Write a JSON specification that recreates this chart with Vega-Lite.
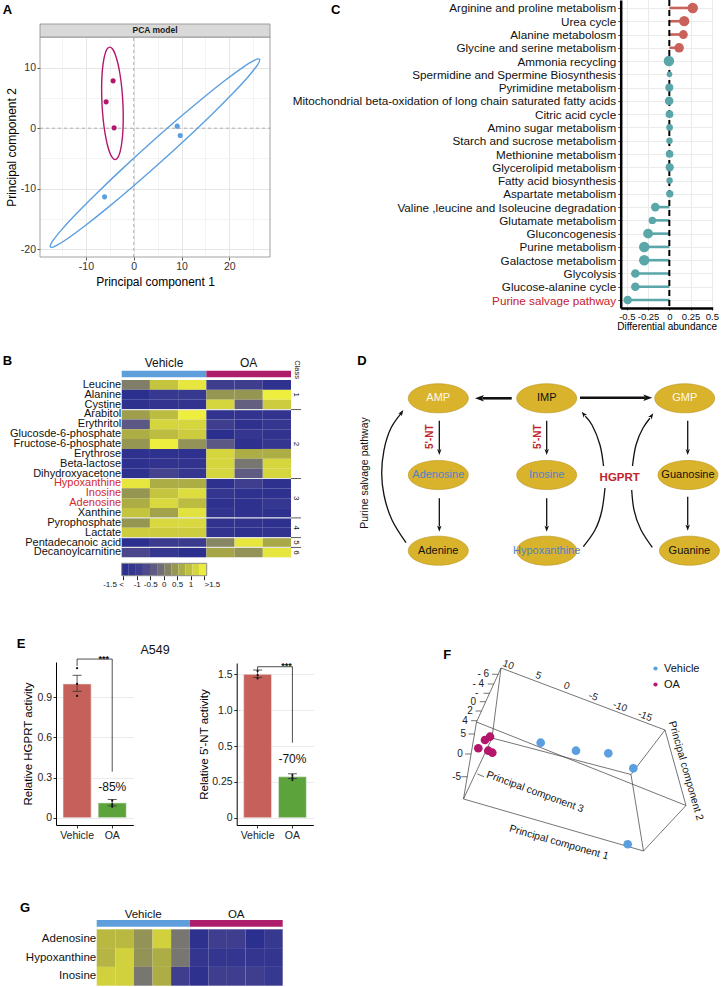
{
"$schema":"https://vega.github.io/schema/vega-lite/v6.json",
"width":724,"height":987,
"padding":0,
"autosize":{"type":"none"},
"background":"white",
"config":{
 "font":"Liberation Sans",
 "view":{"stroke":null},
 "axis":{"labelFont":"Liberation Sans","titleFont":"Liberation Sans","titleFontWeight":"normal","grid":false,"labelColor":"#222","titleColor":"#000","domainColor":"#000","tickColor":"#333","labelLimit":400,"labelOverlap":false,"labelFlush":false},
 "legend":{"labelFont":"Liberation Sans"},
 "text":{"font":"Liberation Sans"}
},
"resolve":{"scale":{"x":"independent","y":"independent","color":"independent","fill":"independent","size":"independent","angle":"independent","strokeWidth":"independent"},"axis":{"x":"independent","y":"independent"},"legend":{"color":"independent","fill":"independent","size":"independent"}},
"layer":[
 {"resolve":{"axis":{"x":"independent"}},
  "layer":[
   {"data":{"values":[{}]},"mark":{"type":"rule","color":"#A0A0A0","strokeDash":[3,3],"strokeWidth":0.8},"encoding":{"x":{"datum":0,"type":"quantitative","axis":null},"y":{"datum":-21.3,"type":"quantitative"},"y2":{"datum":15.07}}},
   {"data":{"values":[{}]},"mark":{"type":"rule","color":"#A0A0A0","strokeDash":[3,3],"strokeWidth":0.8},"encoding":{"y":{"datum":0,"type":"quantitative"},"x":{"datum":-19.6,"type":"quantitative","axis":null},"x2":{"datum":28.5}}},
   {"data":{"values":[
     {"group":"OA","t":0,"x":-5.05,"y":13.4},{"group":"OA","t":15,"x":-4.465,"y":13.12},{"group":"OA","t":30,"x":-3.88,"y":12.224},{"group":"OA","t":45,"x":-3.333,"y":10.774},{"group":"OA","t":60,"x":-2.862,"y":8.871},{"group":"OA","t":75,"x":-2.499,"y":6.644},{"group":"OA","t":90,"x":-2.27,"y":4.24},{"group":"OA","t":105,"x":-2.189,"y":1.826},{"group":"OA","t":120,"x":-2.262,"y":-0.429},{"group":"OA","t":135,"x":-2.485,"y":-2.376},{"group":"OA","t":150,"x":-2.84,"y":-3.884},{"group":"OA","t":165,"x":-3.305,"y":-4.848},{"group":"OA","t":180,"x":-3.85,"y":-5.2},{"group":"OA","t":195,"x":-4.435,"y":-4.92},{"group":"OA","t":210,"x":-5.02,"y":-4.024},{"group":"OA","t":225,"x":-5.567,"y":-2.574},{"group":"OA","t":240,"x":-6.038,"y":-0.671},{"group":"OA","t":255,"x":-6.401,"y":1.556},{"group":"OA","t":270,"x":-6.63,"y":3.96},{"group":"OA","t":285,"x":-6.711,"y":6.374},{"group":"OA","t":300,"x":-6.638,"y":8.629},{"group":"OA","t":315,"x":-6.415,"y":10.576},{"group":"OA","t":330,"x":-6.06,"y":12.084},{"group":"OA","t":345,"x":-5.595,"y":13.048},
     {"group":"Vehicle","t":0,"x":26.32,"y":11.36},{"group":"Vehicle","t":15,"x":25.292,"y":11.233},{"group":"Vehicle","t":30,"x":22.84,"y":10.057},{"group":"Vehicle","t":45,"x":19.135,"y":7.914},{"group":"Vehicle","t":60,"x":14.432,"y":4.954},{"group":"Vehicle","t":75,"x":9.049,"y":1.375},{"group":"Vehicle","t":90,"x":3.345,"y":-2.584},{"group":"Vehicle","t":105,"x":-2.285,"y":-6.649},{"group":"Vehicle","t":120,"x":-7.448,"y":-10.536},{"group":"Vehicle","t":135,"x":-11.803,"y":-13.988},{"group":"Vehicle","t":150,"x":-15.056,"y":-16.771},{"group":"Vehicle","t":165,"x":-16.98,"y":-18.693},{"group":"Vehicle","t":180,"x":-17.44,"y":-19.62},{"group":"Vehicle","t":195,"x":-16.412,"y":-19.493},{"group":"Vehicle","t":210,"x":-13.96,"y":-18.317},{"group":"Vehicle","t":225,"x":-10.255,"y":-16.174},{"group":"Vehicle","t":240,"x":-5.552,"y":-13.214},{"group":"Vehicle","t":255,"x":-0.169,"y":-9.635},{"group":"Vehicle","t":270,"x":5.535,"y":-5.676},{"group":"Vehicle","t":285,"x":11.165,"y":-1.611},{"group":"Vehicle","t":300,"x":16.328,"y":2.276},{"group":"Vehicle","t":315,"x":20.683,"y":5.728},{"group":"Vehicle","t":330,"x":23.936,"y":8.511},{"group":"Vehicle","t":345,"x":25.86,"y":10.433}
    ]},
    "mark":{"type":"line","interpolate":"cardinal-closed","strokeWidth":1.4},
    "encoding":{"x":{"field":"x","type":"quantitative","axis":{"orient":"top","offset":-37,"values":[-15,-10,-5,0,5,10,15,20,25],"grid":true,"gridColor":{"condition":{"test":"datum.value % 10 === 0","value":"#E6E6E6"},"value":"#F3F3F3"},"labels":false,"ticks":false,"domain":false,"title":null}},"y":{"field":"y","type":"quantitative"},"order":{"field":"t","type":"quantitative"},"color":{"field":"group","type":"nominal","scale":{"domain":["Vehicle","OA"],"range":["#5B9FE0","#B3176C"]},"legend":null}}},
   {"data":{"values":[{"group":"Vehicle","x":9.1,"y":0.33},{"group":"Vehicle","x":9.72,"y":-1.21},{"group":"Vehicle","x":-6.1,"y":-11.36},{"group":"OA","x":-4.31,"y":7.82},{"group":"OA","x":-5.77,"y":4.35},{"group":"OA","x":-4.1,"y":0.05}]},
    "mark":{"type":"point","filled":true,"size":26,"opacity":1},
    "encoding":{
     "x":{"field":"x","type":"quantitative","scale":{"domain":[-19.6,28.5],"range":[40,270],"nice":false,"zero":false},"axis":{"orient":"bottom","offset":-730,"values":[-15,-10,-5,0,5,10,15,20,25],"labelExpr":"datum.value % 10 === 0 ? '' + datum.value : ''","title":"Principal component 1","titleFontSize":12,"labelFontSize":10.5,"grid":false,"tickColor":{"condition":{"test":"datum.value % 10 === 0","value":"#555"},"value":"transparent"},"tickSize":3,"domain":false,"labelPadding":1.5,"titlePadding":4,"labelColor":"#333"}},
     "y":{"field":"y","type":"quantitative","scale":{"domain":[-21.3,15.07],"range":[257,37],"nice":false,"zero":false},"axis":{"orient":"left","offset":-40,"values":[-20,-15,-10,-5,0,5,10,15],"labelExpr":"datum.value % 10 === 0 ? '' + datum.value : ''","title":"Principal component 2","titleFontSize":12,"labelFontSize":10.5,"grid":true,"gridColor":{"condition":{"test":"datum.value % 10 === 0","value":"#E6E6E6"},"value":"#F3F3F3"},"tickColor":{"condition":{"test":"datum.value % 10 === 0","value":"#555"},"value":"transparent"},"tickSize":3,"domain":false,"labelPadding":1.5,"titlePadding":2,"labelColor":"#333"}},
     "color":{"field":"group","type":"nominal","scale":{"domain":["Vehicle","OA"],"range":["#5B9FE0","#B3176C"]},"legend":{"orient":"none","legendX":219.2,"legendY":223.3,"title":null,"labelFontSize":12,"symbolSize":25,"symbolType":"circle","rowPadding":7,"labelOffset":4,"padding":0,"labelColor":"#111"}}}},
   {"data":{"values":[{}]},"mark":{"type":"rect","filled":false,"stroke":"#8A8A8A","strokeWidth":0.8},"encoding":{"x":{"datum":-19.6,"type":"quantitative","axis":null},"x2":{"datum":28.5},"y":{"datum":-21.3,"type":"quantitative"},"y2":{"datum":15.07}}},
   {"data":{"values":[{}]},"mark":{"type":"rect","color":"#D9D9D9","stroke":"#8A8A8A","strokeWidth":0.8},"encoding":{"x":{"datum":-19.6,"type":"quantitative","axis":null},"x2":{"datum":28.5},"y":{"datum":15.07,"type":"quantitative"},"y2":{"datum":17.22}}},
   {"data":{"values":[{"label":"PCA model"}]},"mark":{"type":"text","fontSize":8.5,"fontWeight":"bold","color":"#1a1a1a","baseline":"middle"},"encoding":{"x":{"datum":4.45,"type":"quantitative","axis":null},"y":{"datum":16.15,"type":"quantitative"},"text":{"field":"label","type":"nominal"}}}
 ]},
 {"data":{"name":"cdata"},"mark":{"type":"rule","strokeWidth":2.6},
  "encoding":{"y":{"field":"pathway","type":"nominal","sort":null,"scale":{"type":"point","padding":0.6,"range":[0,308],"domain":["Arginine and proline metabolism","Urea cycle","Alanine metabolosm","Glycine and serine metabolism","Ammonia recycling","Spermidine and Spermine Biosynthesis","Pyrimidine metabolism","Mitochondrial beta-oxidation of long chain saturated fatty acids","Citric acid cycle","Amino sugar metabolism","Starch and sucrose metabolism","Methionine metabolism","Glycerolipid metabolism","Fatty acid biosynthesis","Aspartate metabolism","Valine ,leucine and Isoleucine degradation","Glutamate metabolism","Gluconcogenesis","Purine metabolism","Galactose metabolism","Glycolysis","Glucose-alanine cycle","Purine salvage pathway"]},"axis":null},
   "x":{"field":"abundance","type":"quantitative","scale":{"domain":[-0.572,0.51],"range":[620.7,712.7],"nice":false,"zero":false},"axis":{"orient":"top","offset":0,"values":[-0.5,-0.25,0,0.25,0.5],"grid":true,"gridColor":"#EBEBEB","labels":false,"ticks":false,"domain":false,"title":null}},"x2":{"datum":0},
   "color":{"condition":{"test":"datum.abundance > 0.05","value":"#C9625A"},"value":"#5AA6A9"}}},
 {"data":{"values":[{}]},"mark":{"type":"rule","color":"#000","strokeWidth":2,"strokeDash":[6,4]},
  "encoding":{"x":{"datum":0,"type":"quantitative","scale":{"domain":[-0.572,0.51],"range":[620.7,712.7],"nice":false,"zero":false},"axis":null},"y":{"datum":0,"type":"quantitative","scale":{"domain":[0,1],"range":[0,308]},"axis":null},"y2":{"datum":1}}},
 {"data":{"name":"cdata"},"mark":{"type":"point","filled":true,"opacity":1},
  "encoding":{
   "y":{"field":"pathway","type":"nominal","sort":null,"scale":{"type":"point","padding":0.6,"range":[0,308],"domain":["Arginine and proline metabolism","Urea cycle","Alanine metabolosm","Glycine and serine metabolism","Ammonia recycling","Spermidine and Spermine Biosynthesis","Pyrimidine metabolism","Mitochondrial beta-oxidation of long chain saturated fatty acids","Citric acid cycle","Amino sugar metabolism","Starch and sucrose metabolism","Methionine metabolism","Glycerolipid metabolism","Fatty acid biosynthesis","Aspartate metabolism","Valine ,leucine and Isoleucine degradation","Glutamate metabolism","Gluconcogenesis","Purine metabolism","Galactose metabolism","Glycolysis","Glucose-alanine cycle","Purine salvage pathway"]},
     "axis":{"orient":"left","offset":-620.7,"title":null,"labelFontSize":11.7,"labelLimit":400,"labelColor":{"condition":{"test":"datum.value === 'Purine salvage pathway'","value":"#C8202A"},"value":"#111"},"ticks":true,"tickSize":3,"tickColor":"#555","domain":true,"domainColor":"#000","domainWidth":2.5,"labelPadding":2,"grid":true,"gridColor":"#EBEBEB"}},
   "x":{"field":"abundance","type":"quantitative","scale":{"domain":[-0.572,0.51],"range":[620.7,712.7],"nice":false,"zero":false},"axis":{"orient":"bottom","offset":-679,"values":[-0.5,-0.25,0,0.25,0.5],"labelExpr":"'' + datum.value","title":"Differential abundance","titleFontSize":10,"labelFontSize":9.5,"tickSize":2,"tickColor":"#555","domainWidth":2.5,"domainColor":"#000","labelPadding":1,"titlePadding":1,"grid":false,"labelColor":"#111"}},
   "size":{"field":"sig","type":"quantitative","scale":{"domain":[1,3],"range":[18,110]},"legend":null},
   "color":{"condition":{"test":"datum.abundance > 0.05","value":"#C9625A"},"value":"#5AA6A9"}}},
 {"data":{"values":[{"group":"Vehicle"},{"group":"OA"}]},"mark":"rect",
  "encoding":{"x":{"field":"group","type":"nominal","sort":null,"scale":{"domain":["Vehicle","OA"],"range":[121.7,291],"paddingInner":0,"paddingOuter":0},"axis":{"orient":"top","offset":-370.7,"title":null,"ticks":false,"domain":false,"labelAngle":0,"labelFontSize":12,"labelPadding":1,"labelColor":"#111"}},
   "y":{"datum":0,"type":"quantitative","scale":{"domain":[0,1],"range":[377.3,370.7]},"axis":null},"y2":{"datum":1},
   "color":{"field":"group","type":"nominal","scale":{"domain":["Vehicle","OA"],"range":["#5E9FDB","#AE1F6B"]},"legend":null}}},
 {"data":{"values":[
{"m":"Leucine","s":"V1","z":0.1},{"m":"Leucine","s":"V2","z":1.0},{"m":"Leucine","s":"V3","z":1.4},{"m":"Leucine","s":"O1","z":-0.9},{"m":"Leucine","s":"O2","z":-0.9},{"m":"Leucine","s":"O3","z":-1.4},
{"m":"Alanine","s":"V1","z":-1.5},{"m":"Alanine","s":"V2","z":-1.1},{"m":"Alanine","s":"V3","z":-1.1},{"m":"Alanine","s":"O1","z":0.4},{"m":"Alanine","s":"O2","z":0.4},{"m":"Alanine","s":"O3","z":1.5},
{"m":"Cystine","s":"V1","z":-1.4},{"m":"Cystine","s":"V2","z":-1.3},{"m":"Cystine","s":"V3","z":-1.3},{"m":"Cystine","s":"O1","z":1.2},{"m":"Cystine","s":"O2","z":-0.3},{"m":"Cystine","s":"O3","z":1.1},
{"m":"Arabitol","s":"V1","z":0.5},{"m":"Arabitol","s":"V2","z":0.9},{"m":"Arabitol","s":"V3","z":1.5},{"m":"Arabitol","s":"O1","z":-1.3},{"m":"Arabitol","s":"O2","z":-1.3},{"m":"Arabitol","s":"O3","z":-1.3},
{"m":"Erythritol","s":"V1","z":-0.4},{"m":"Erythritol","s":"V2","z":1.2},{"m":"Erythritol","s":"V3","z":1.2},{"m":"Erythritol","s":"O1","z":-0.9},{"m":"Erythritol","s":"O2","z":-1.4},{"m":"Erythritol","s":"O3","z":-1.2},
{"m":"Glucosde-6-phosphate","s":"V1","z":0.7},{"m":"Glucosde-6-phosphate","s":"V2","z":0.9},{"m":"Glucosde-6-phosphate","s":"V3","z":1.1},{"m":"Glucosde-6-phosphate","s":"O1","z":-1.5},{"m":"Glucosde-6-phosphate","s":"O2","z":-1.2},{"m":"Glucosde-6-phosphate","s":"O3","z":-1.3},
{"m":"Fructose-6-phosphate","s":"V1","z":0.4},{"m":"Fructose-6-phosphate","s":"V2","z":1.5},{"m":"Fructose-6-phosphate","s":"V3","z":0.35},{"m":"Fructose-6-phosphate","s":"O1","z":-0.4},{"m":"Fructose-6-phosphate","s":"O2","z":-1.4},{"m":"Fructose-6-phosphate","s":"O3","z":-1.2},
{"m":"Erythrose","s":"V1","z":-1.4},{"m":"Erythrose","s":"V2","z":-1.4},{"m":"Erythrose","s":"V3","z":-1.4},{"m":"Erythrose","s":"O1","z":1.2},{"m":"Erythrose","s":"O2","z":0.7},{"m":"Erythrose","s":"O3","z":0.7},
{"m":"Beta-lactose","s":"V1","z":-1.4},{"m":"Beta-lactose","s":"V2","z":-1.3},{"m":"Beta-lactose","s":"V3","z":-1.3},{"m":"Beta-lactose","s":"O1","z":1.2},{"m":"Beta-lactose","s":"O2","z":0.0},{"m":"Beta-lactose","s":"O3","z":1.2},
{"m":"Dihydroxyacetone","s":"V1","z":-1.4},{"m":"Dihydroxyacetone","s":"V2","z":-0.8},{"m":"Dihydroxyacetone","s":"V3","z":-1.2},{"m":"Dihydroxyacetone","s":"O1","z":1.2},{"m":"Dihydroxyacetone","s":"O2","z":-0.35},{"m":"Dihydroxyacetone","s":"O3","z":1.2},
{"m":"Hypoxanthine","s":"V1","z":1.4},{"m":"Hypoxanthine","s":"V2","z":0.7},{"m":"Hypoxanthine","s":"V3","z":0.7},{"m":"Hypoxanthine","s":"O1","z":-1.4},{"m":"Hypoxanthine","s":"O2","z":-0.9},{"m":"Hypoxanthine","s":"O3","z":-1.4},
{"m":"Inosine","s":"V1","z":0.4},{"m":"Inosine","s":"V2","z":1.0},{"m":"Inosine","s":"V3","z":1.3},{"m":"Inosine","s":"O1","z":-1.2},{"m":"Inosine","s":"O2","z":-1.4},{"m":"Inosine","s":"O3","z":-1.4},
{"m":"Adenosine","s":"V1","z":0.7},{"m":"Adenosine","s":"V2","z":1.25},{"m":"Adenosine","s":"V3","z":0.9},{"m":"Adenosine","s":"O1","z":-1.4},{"m":"Adenosine","s":"O2","z":-1.4},{"m":"Adenosine","s":"O3","z":-1.2},
{"m":"Xanthine","s":"V1","z":1.0},{"m":"Xanthine","s":"V2","z":0.55},{"m":"Xanthine","s":"V3","z":1.35},{"m":"Xanthine","s":"O1","z":-1.3},{"m":"Xanthine","s":"O2","z":-1.4},{"m":"Xanthine","s":"O3","z":-1.4},
{"m":"Pyrophosphate","s":"V1","z":0.4},{"m":"Pyrophosphate","s":"V2","z":1.25},{"m":"Pyrophosphate","s":"V3","z":1.25},{"m":"Pyrophosphate","s":"O1","z":-1.3},{"m":"Pyrophosphate","s":"O2","z":-1.3},{"m":"Pyrophosphate","s":"O3","z":-1.4},
{"m":"Lactate","s":"V1","z":1.1},{"m":"Lactate","s":"V2","z":1.1},{"m":"Lactate","s":"V3","z":1.1},{"m":"Lactate","s":"O1","z":-1.3},{"m":"Lactate","s":"O2","z":-1.4},{"m":"Lactate","s":"O3","z":-1.3},
{"m":"Pentadecanoic acid","s":"V1","z":-1.5},{"m":"Pentadecanoic acid","s":"V2","z":-1.0},{"m":"Pentadecanoic acid","s":"V3","z":-1.0},{"m":"Pentadecanoic acid","s":"O1","z":0.2},{"m":"Pentadecanoic acid","s":"O2","z":1.4},{"m":"Pentadecanoic acid","s":"O3","z":0.65},
{"m":"Decanoylcarnitine","s":"V1","z":-0.7},{"m":"Decanoylcarnitine","s":"V2","z":-1.2},{"m":"Decanoylcarnitine","s":"V3","z":-1.5},{"m":"Decanoylcarnitine","s":"O1","z":0.6},{"m":"Decanoylcarnitine","s":"O2","z":0.35},{"m":"Decanoylcarnitine","s":"O3","z":1.4}
  ]},
  "mark":"rect",
  "encoding":{
   "x":{"field":"s","type":"nominal","sort":null,"scale":{"domain":["V1","V2","V3","O1","O2","O3"],"range":[121.7,291],"paddingInner":0,"paddingOuter":0},"axis":null},
   "y":{"field":"m","type":"nominal","sort":null,"scale":{"domain":["Leucine","Alanine","Cystine","Arabitol","Erythritol","Glucosde-6-phosphate","Fructose-6-phosphate","Erythrose","Beta-lactose","Dihydroxyacetone","Hypoxanthine","Inosine","Adenosine","Xanthine","Pyrophosphate","Lactate","Pentadecanoic acid","Decanoylcarnitine"],"range":[380,557.3],"paddingInner":0,"paddingOuter":0},
      "axis":{"orient":"left","offset":-121.7,"title":null,"ticks":false,"domain":false,"labelFontSize":11,"labelPadding":1,"labelColor":{"condition":{"test":"indexof(['Hypoxanthine','Inosine','Adenosine'], datum.value) >= 0","value":"#D42A2A"},"value":"#111"}}},
   "fill":{"field":"z","type":"quantitative","scale":{"domain":[-1.5,-1,-0.5,0,0.5,1,1.5],"range":["#2B2F8E","#3A3A8F","#55508A","#787670","#9E9E4C","#C4C43E","#EEEE3F"],"clamp":true,"interpolate":"rgb"},"legend":null}}},
 {"data":{"values":[{"m":"Arabitol"},{"m":"Hypoxanthine"},{"m":"Pyrophosphate"},{"m":"Pentadecanoic acid"},{"m":"Decanoylcarnitine"}]},
  "mark":{"type":"rule","color":"#E4E4E4","strokeWidth":1.2},
  "encoding":{"x":{"datum":0,"type":"quantitative","scale":{"domain":[0,1],"range":[121.7,291]},"axis":null},"x2":{"datum":1},
   "y":{"field":"m","type":"nominal","sort":null,"bandPosition":0,"scale":{"domain":["Leucine","Alanine","Cystine","Arabitol","Erythritol","Glucosde-6-phosphate","Fructose-6-phosphate","Erythrose","Beta-lactose","Dihydroxyacetone","Hypoxanthine","Inosine","Adenosine","Xanthine","Pyrophosphate","Lactate","Pentadecanoic acid","Decanoylcarnitine"],"range":[380,557.3],"paddingInner":0,"paddingOuter":0},"axis":null}}},
 {"layer":[
   {"data":{"values":[{"m":"Arabitol"},{"m":"Hypoxanthine"},{"m":"Pyrophosphate"},{"m":"Pentadecanoic acid"},{"m":"Decanoylcarnitine"}]},
    "mark":{"type":"rule","color":"#333","strokeWidth":0.8},
    "encoding":{"x":{"datum":0,"type":"quantitative","scale":{"domain":[0,1],"range":[291,301]},"axis":null},"x2":{"datum":1},
     "y":{"field":"m","type":"nominal","sort":null,"bandPosition":0,"scale":{"domain":["Leucine","Alanine","Cystine","Arabitol","Erythritol","Glucosde-6-phosphate","Fructose-6-phosphate","Erythrose","Beta-lactose","Dihydroxyacetone","Hypoxanthine","Inosine","Adenosine","Xanthine","Pyrophosphate","Lactate","Pentadecanoic acid","Decanoylcarnitine"],"range":[380,557.3],"paddingInner":0,"paddingOuter":0},"axis":null}}},
   {"data":{"values":[{"cls":"1","m":"Alanine"},{"cls":"2","m":"Fructose-6-phosphate"},{"cls":"5","m":"Pentadecanoic acid"},{"cls":"6","m":"Decanoylcarnitine"}]},
    "mark":{"type":"text","angle":90,"fontSize":8,"baseline":"middle","color":"#111"},
    "encoding":{"x":{"datum":0.5,"type":"quantitative"},"y":{"field":"m","type":"nominal","bandPosition":0.5},"text":{"field":"cls","type":"nominal"}}},
   {"data":{"values":[{"cls":"3","m":"Adenosine"},{"cls":"4","m":"Lactate"}]},
    "mark":{"type":"text","angle":90,"fontSize":8,"baseline":"middle","color":"#111"},
    "encoding":{"x":{"datum":0.5,"type":"quantitative"},"y":{"field":"m","type":"nominal","bandPosition":0},"text":{"field":"cls","type":"nominal"}}}
 ]},
 {"layer":[
   {"data":{"values":[
     {"lo":-1.56,"hi":-1.297,"mid":-1.428},{"lo":-1.297,"hi":-1.033,"mid":-1.165},{"lo":-1.033,"hi":-0.77,"mid":-0.902},{"lo":-0.77,"hi":-0.507,"mid":-0.638},{"lo":-0.507,"hi":-0.243,"mid":-0.375},{"lo":-0.243,"hi":0.02,"mid":-0.112},
     {"lo":0.02,"hi":0.283,"mid":0.152},{"lo":0.283,"hi":0.547,"mid":0.415},{"lo":0.547,"hi":0.81,"mid":0.678},{"lo":0.81,"hi":1.073,"mid":0.942},{"lo":1.073,"hi":1.337,"mid":1.205},{"lo":1.337,"hi":1.6,"mid":1.468}]},
    "mark":"rect",
    "encoding":{
     "x":{"field":"lo","type":"quantitative","scale":{"domain":[-1.56,1.6],"range":[121.7,206.7],"nice":false,"zero":false},"axis":{"orient":"bottom","offset":-411.3,"values":[-1.5,-1,-0.5,0,0.5,1,1.5],"labelExpr":"datum.value == -1.5 ? '-1.5 <' : (datum.value == 1.5 ? '>1.5' : '' + datum.value)","labelAlign":{"condition":[{"test":"datum.value == -1.5","value":"right"},{"test":"datum.value == 1.5","value":"left"}],"value":"center"},"title":null,"domain":false,"ticks":true,"tickSize":4,"tickColor":"#222","labelFontSize":8,"labelPadding":1,"grid":false,"labelColor":"#111"}},
     "x2":{"field":"hi"},
     "y":{"datum":0,"type":"quantitative","scale":{"domain":[0,1],"range":[575.7,563.3]},"axis":null},"y2":{"datum":1},
     "fill":{"field":"mid","type":"quantitative","scale":{"domain":[-1.5,-1,-0.5,0,0.5,1,1.5],"range":["#2B2F8E","#3A3A8F","#55508A","#787670","#9E9E4C","#C4C43E","#EEEE3F"],"clamp":true,"interpolate":"rgb"},"legend":null}}},
   {"data":{"values":[{}]},"mark":{"type":"rect","filled":false,"stroke":"#8C8C8C","strokeWidth":1},
    "encoding":{"x":{"datum":-1.56,"type":"quantitative"},"x2":{"datum":1.6},"y":{"datum":0,"type":"quantitative"},"y2":{"datum":1}}}
 ]},
 {"layer":[
   {"data":{"values":[
     {"c":"c1","k":1,"x":1.264,"y":8.856},{"c":"c1","k":2,"x":0.879,"y":7.692},{"c":"c1","k":3,"x":0.659,"y":6.41},{"c":"c1","k":4,"x":0.596,"y":5.282},{"c":"c1","k":5,"x":0.659,"y":4.103},{"c":"c1","k":6,"x":0.852,"y":2.974},{"c":"c1","k":7,"x":1.13,"y":2.22},
     {"c":"c2a","k":1,"x":6.135,"y":9.062},{"c":"c2a","k":2,"x":6.456,"y":8.205},{"c":"c2a","k":3,"x":6.648,"y":7.179},{"c":"c2a","k":4,"x":6.731,"y":6.051},
     {"c":"c2b","k":1,"x":6.69,"y":4.923},{"c":"c2b","k":2,"x":6.593,"y":3.846},{"c":"c2b","k":3,"x":6.374,"y":2.821},{"c":"c2b","k":4,"x":6.19,"y":2.37},
     {"c":"c3a","k":1,"x":8.03,"y":9.092},{"c":"c3a","k":2,"x":7.72,"y":8.205},{"c":"c3a","k":3,"x":7.527,"y":7.179},{"c":"c3a","k":4,"x":7.464,"y":6.154},
     {"c":"c3b","k":1,"x":7.486,"y":4.923},{"c":"c3b","k":2,"x":7.582,"y":3.846},{"c":"c3b","k":3,"x":7.775,"y":2.974},{"c":"c3b","k":4,"x":7.964,"y":2.473}]},
    "mark":{"type":"line","interpolate":"natural","color":"#111","strokeWidth":1.3},
    "encoding":{"x":{"field":"x","type":"quantitative","scale":{"domain":[0,10],"range":[360,724],"nice":false,"zero":false},"axis":null},"y":{"field":"y","type":"quantitative","scale":{"domain":[0,10],"range":[370,565],"nice":false,"zero":false},"axis":null},"detail":{"field":"c","type":"nominal"},"order":{"field":"k","type":"quantitative"}}},
   {"data":{"values":[
     {"x":4.168,"y":1.451,"x2":3.36,"y2":1.451,"w":"thick"},{"x":6.044,"y":1.421,"x2":7.83,"y2":1.421,"w":"thick"},
     {"x":2.179,"y":2.6,"x2":2.179,"y2":4.1,"w":"thin"},{"x":5.129,"y":2.6,"x2":5.129,"y2":4.1,"w":"thin"},{"x":9.003,"y":2.6,"x2":9.003,"y2":4.1,"w":"thin"},
     {"x":2.179,"y":6.579,"x2":2.179,"y2":8.03,"w":"thin"},{"x":5.129,"y":6.579,"x2":5.129,"y2":8.03,"w":"thin"},{"x":9.003,"y":6.497,"x2":9.003,"y2":7.98,"w":"thin"}]},
    "mark":{"type":"rule","color":"#111"},
    "encoding":{"x":{"field":"x","type":"quantitative"},"y":{"field":"y","type":"quantitative"},"x2":{"field":"x2"},"y2":{"field":"y2"},"strokeWidth":{"condition":{"test":"datum.w === 'thick'","value":2.6},"value":1.3}}},
   {"data":{"values":[
     {"x":3.159,"y":1.451,"heading":270,"w":"thick"},{"x":8.03,"y":1.421,"heading":90,"w":"thick"},
     {"x":2.179,"y":4.359,"heading":180,"w":"thin"},{"x":5.129,"y":4.359,"heading":180,"w":"thin"},{"x":9.003,"y":4.359,"heading":180,"w":"thin"},
     {"x":2.179,"y":8.292,"heading":180,"w":"thin"},{"x":5.129,"y":8.292,"heading":180,"w":"thin"},{"x":9.003,"y":8.241,"heading":180,"w":"thin"},
     {"x":1.19,"y":2.051,"heading":34,"w":"thin"},{"x":6.091,"y":2.138,"heading":322,"w":"thin"},{"x":8.058,"y":2.221,"heading":35,"w":"thin"}]},
    "mark":{"type":"point","shape":"M0,0L0.55,1.5L0,1.15L-0.55,1.5Z","filled":true,"color":"#111","opacity":1,"strokeWidth":0},
    "encoding":{"x":{"field":"x","type":"quantitative"},"y":{"field":"y","type":"quantitative"},"angle":{"field":"heading","type":"quantitative","scale":{"domain":[0,360],"range":[0,360]}},"size":{"condition":{"test":"datum.w === 'thick'","value":144},"value":64}}},
   {"data":{"name":"dnodes"},
    "mark":{"type":"point","shape":"M-1,0A1,0.485,0,1,1,1,0A1,0.485,0,1,1,-1,0Z","size":3600,"filled":true,"color":"#D9B32B","stroke":"#B8921C","strokeWidth":0.6,"opacity":1},
    "encoding":{"x":{"field":"cx","type":"quantitative"},"y":{"field":"cy","type":"quantitative"}}},
   {"data":{"name":"dnodes"},
    "mark":{"type":"text","fontSize":11,"baseline":"middle"},
    "encoding":{"x":{"field":"cx","type":"quantitative"},"y":{"field":"cy","type":"quantitative"},"text":{"field":"name","type":"nominal"},
     "color":{"condition":[{"test":"datum.role === 'light'","value":"#FFF9E8"},{"test":"datum.role === 'measured'","value":"#4E84C4"}],"value":"#111"}}},
   {"data":{"values":[{"label":"5'-NT","x":1.923,"y":3.42},{"label":"5'-NT","x":4.898,"y":3.42}]},
    "mark":{"type":"text","angle":270,"fontSize":10,"fontWeight":"bold","color":"#C0242B","baseline":"middle"},
    "encoding":{"x":{"field":"x","type":"quantitative"},"y":{"field":"y","type":"quantitative"},"text":{"field":"label","type":"nominal"}}},
   {"data":{"values":[{"label":"HGPRT","x":7.135,"y":5.523}]},
    "mark":{"type":"text","fontSize":11.5,"fontWeight":"bold","color":"#C0242B","baseline":"middle"},
    "encoding":{"x":{"field":"x","type":"quantitative"},"y":{"field":"y","type":"quantitative"},"text":{"field":"label","type":"nominal"}}},
   {"data":{"values":[{"label":"Purine salvage pathway","x":0.137,"y":5.282}]},
    "mark":{"type":"text","angle":270,"fontSize":10.5,"color":"#111","baseline":"middle"},
    "encoding":{"x":{"field":"x","type":"quantitative"},"y":{"field":"y","type":"quantitative"},"text":{"field":"label","type":"nominal"}}}
 ]},
 {"layer":[
   {"data":{"values":[{"group":"Vehicle","mean":1.0,"lo":0.945,"hi":1.065},{"group":"OA","mean":0.11,"lo":0.088,"hi":0.135}]},
    "layer":[
     {"mark":{"type":"bar","stroke":"#EDEDED","strokeWidth":0.6},
      "encoding":{"x":{"field":"group","type":"nominal","sort":null,"scale":{"domain":["Vehicle","OA"],"range":[56,133.3],"paddingInner":0.2,"paddingOuter":0.2},"axis":{"orient":"bottom","offset":-162,"title":null,"labelAngle":0,"labelFontSize":10.5,"tickSize":3,"labelPadding":2,"grid":false,"bandPosition":0.5,"domainColor":"#000","labelColor":"#222"}},
       "y":{"field":"mean","type":"quantitative","scale":{"domain":[-0.055,1.164],"range":[825,662],"nice":false,"zero":false},"axis":{"orient":"left","offset":-56,"values":[0,0.3,0.6,0.9],"labelExpr":"'' + datum.value","title":"Relative HGPRT activity","titleFontSize":11.5,"labelFontSize":10.5,"tickSize":3,"grid":true,"gridColor":"#EBEBEB","domainColor":"#000","labelPadding":1.5,"titlePadding":3,"labelColor":"#222"}},
       "y2":{"datum":0},
       "color":{"condition":{"test":"datum.group === 'Vehicle'","value":"#C5605A"},"value":"#5DA33B"}}},
     {"mark":{"type":"rule","color":"#333","strokeWidth":0.8},"encoding":{"x":{"field":"group","type":"nominal"},"y":{"field":"lo","type":"quantitative"},"y2":{"field":"hi"}}},
     {"mark":{"type":"tick","color":"#333","thickness":0.8,"size":9,"opacity":1},"encoding":{"x":{"field":"group","type":"nominal"},"y":{"field":"lo","type":"quantitative"}}},
     {"mark":{"type":"tick","color":"#333","thickness":0.8,"size":9,"opacity":1},"encoding":{"x":{"field":"group","type":"nominal"},"y":{"field":"hi","type":"quantitative"}}}
    ]},
   {"data":{"values":[{"group":"Vehicle","v":1.118},{"group":"Vehicle","v":1.0},{"group":"Vehicle","v":0.91},{"group":"OA","v":0.127},{"group":"OA","v":0.1},{"group":"OA","v":0.082}]},
    "mark":{"type":"circle","size":5,"color":"#111","opacity":1},
    "encoding":{"x":{"field":"group","type":"nominal"},"y":{"field":"v","type":"quantitative"}}},
   {"data":{"values":[{"group":"Vehicle","v":1.135,"k":1},{"group":"Vehicle","v":1.186,"k":2},{"group":"OA","v":1.186,"k":3},{"group":"OA","v":0.344,"k":4}]},
    "mark":{"type":"line","color":"#222","strokeWidth":0.8},
    "encoding":{"x":{"field":"group","type":"nominal"},"y":{"field":"v","type":"quantitative"},"order":{"field":"k","type":"quantitative"}}},
   {"data":{"values":[{"group":"OA","v":1.162,"label":"***"}]},
    "mark":{"type":"text","fontSize":9,"fontWeight":"bold","baseline":"alphabetic","color":"#111"},
    "encoding":{"x":{"field":"group","type":"nominal","bandPosition":0.2},"y":{"field":"v","type":"quantitative"},"text":{"field":"label","type":"nominal"}}},
   {"data":{"values":[{"group":"OA","v":0.232,"label":"-85%"}]},
    "mark":{"type":"text","fontSize":12,"baseline":"middle","color":"#111"},
    "encoding":{"x":{"field":"group","type":"nominal"},"y":{"field":"v","type":"quantitative"},"text":{"field":"label","type":"nominal"}}}
 ]},
 {"layer":[
   {"data":{"values":[{"group":"Vehicle","mean":1.5,"lo":1.458,"hi":1.56},{"group":"OA","mean":0.285,"lo":0.274,"hi":0.306}]},
    "layer":[
     {"mark":{"type":"bar","stroke":"#EDEDED","strokeWidth":0.6},
      "encoding":{"x":{"field":"group","type":"nominal","sort":null,"scale":{"domain":["Vehicle","OA"],"range":[236.7,313.3],"paddingInner":0.2,"paddingOuter":0.2},"axis":{"orient":"bottom","offset":-162,"title":null,"labelAngle":0,"labelFontSize":10.5,"tickSize":3,"labelPadding":2,"grid":false,"bandPosition":0.5,"domainColor":"#000","labelColor":"#222"}},
       "y":{"field":"mean","type":"quantitative","scale":{"domain":[-0.051,0.5,1.658],"range":[825,746,663],"nice":false,"zero":false},"axis":{"orient":"left","offset":-236.7,"values":[0,0.25,0.5,1,1.5],"labelExpr":"datum.value === 1 ? '1.0' : '' + datum.value","title":"Relative 5'-NT activity","titleFontSize":11.5,"labelFontSize":10.5,"tickSize":3,"grid":true,"gridColor":"#EBEBEB","domainColor":"#000","labelPadding":1.5,"titlePadding":2,"labelColor":"#222"}},
       "y2":{"datum":0},
       "color":{"condition":{"test":"datum.group === 'Vehicle'","value":"#C5605A"},"value":"#5DA33B"}}},
     {"mark":{"type":"rule","color":"#333","strokeWidth":0.8},"encoding":{"x":{"field":"group","type":"nominal"},"y":{"field":"lo","type":"quantitative"},"y2":{"field":"hi"}}},
     {"mark":{"type":"tick","color":"#333","thickness":0.8,"size":9,"opacity":1},"encoding":{"x":{"field":"group","type":"nominal"},"y":{"field":"lo","type":"quantitative"}}},
     {"mark":{"type":"tick","color":"#333","thickness":0.8,"size":9,"opacity":1},"encoding":{"x":{"field":"group","type":"nominal"},"y":{"field":"hi","type":"quantitative"}}}
    ]},
   {"data":{"values":[{"group":"Vehicle","v":1.546},{"group":"Vehicle","v":1.49},{"group":"Vehicle","v":1.443},{"group":"OA","v":0.297},{"group":"OA","v":0.281},{"group":"OA","v":0.262}]},
    "mark":{"type":"circle","size":5,"color":"#111","opacity":1},
    "encoding":{"x":{"field":"group","type":"nominal"},"y":{"field":"v","type":"quantitative"}}},
   {"data":{"values":[{"group":"Vehicle","v":1.56,"k":1},{"group":"Vehicle","v":1.606,"k":2},{"group":"OA","v":1.606,"k":3},{"group":"OA","v":0.546,"k":4}]},
    "mark":{"type":"line","color":"#222","strokeWidth":0.8},
    "encoding":{"x":{"field":"group","type":"nominal"},"y":{"field":"v","type":"quantitative"},"order":{"field":"k","type":"quantitative"}}},
   {"data":{"values":[{"group":"OA","v":1.577,"label":"***"}]},
    "mark":{"type":"text","fontSize":9,"fontWeight":"bold","baseline":"alphabetic","color":"#111"},
    "encoding":{"x":{"field":"group","type":"nominal","bandPosition":0.29},"y":{"field":"v","type":"quantitative"},"text":{"field":"label","type":"nominal"}}},
   {"data":{"values":[{"group":"OA","v":0.407,"label":"-70%"}]},
    "mark":{"type":"text","fontSize":12,"baseline":"middle","color":"#111"},
    "encoding":{"x":{"field":"group","type":"nominal"},"y":{"field":"v","type":"quantitative"},"text":{"field":"label","type":"nominal"}}}
 ]},
 {"layer":[
   {"data":{"values":[
     {"x":21.79,"y":3.9,"x2":80.36,"y2":34.15},{"x":21.79,"y":3.9,"x2":13.04,"y2":30.24},{"x":21.79,"y":3.9,"x2":18.57,"y2":38.05},{"x":80.36,"y":34.15,"x2":87.86,"y2":70.98},
     {"x":80.36,"y":34.15,"x2":68.21,"y2":55.85},{"x":13.04,"y":30.24,"x2":8.39,"y2":67.8},{"x":13.04,"y":30.24,"x2":87.86,"y2":70.98},{"x":8.39,"y":67.8,"x2":72.68,"y2":93.17},
     {"x":8.39,"y":67.8,"x2":18.57,"y2":38.05},{"x":87.86,"y":70.98,"x2":72.68,"y2":93.17},{"x":72.68,"y":93.17,"x2":68.21,"y2":55.85},{"x":68.21,"y":55.85,"x2":18.57,"y2":38.05},
     {"x":18.61,"y":6.98,"x2":20.75,"y2":6.98},{"x":17.04,"y":11.71,"x2":19.18,"y2":11.71},{"x":15.54,"y":16.24,"x2":17.68,"y2":16.24},{"x":14.18,"y":20.34,"x2":16.32,"y2":20.34},
     {"x":12.68,"y":24.88,"x2":14.82,"y2":24.88},{"x":11.11,"y":29.61,"x2":13.25,"y2":29.61},{"x":10.18,"y":36.1,"x2":12.32,"y2":36.1},{"x":8.96,"y":45.85,"x2":11.11,"y2":45.85},
     {"x":7.61,"y":56.93,"x2":9.75,"y2":56.93},{"x":13.32,"y":55.61,"x2":15.71,"y2":56.93}]},
    "mark":{"type":"rule","color":"#3A3A3A","strokeWidth":0.7},
    "encoding":{"x":{"field":"x","type":"quantitative","scale":{"domain":[0,100],"range":[440,720],"nice":false,"zero":false},"axis":null},"y":{"field":"y","type":"quantitative","scale":{"domain":[0,100],"range":[660,865],"nice":false,"zero":false},"axis":null},"x2":{"field":"x2"},"y2":{"field":"y2"}}},
   {"data":{"values":[
     {"group":"OA","x":17.86,"y":37.41},{"group":"OA","x":16.07,"y":39.02},{"group":"OA","x":13.68,"y":43.07},{"group":"OA","x":17.25,"y":44.24},{"group":"OA","x":18.68,"y":45.22},
     {"group":"Vehicle","x":35.96,"y":40.34},{"group":"Vehicle","x":48.57,"y":44.24},{"group":"Vehicle","x":60.11,"y":45.51},{"group":"Vehicle","x":69.04,"y":52.83},{"group":"Vehicle","x":67.04,"y":89.9}]},
    "mark":{"type":"circle","size":75,"opacity":1},
    "encoding":{"x":{"field":"x","type":"quantitative"},"y":{"field":"y","type":"quantitative"},
     "color":{"field":"group","type":"nominal","scale":{"domain":["Vehicle","OA"],"range":["#5B9FE0","#B3176C"]},"legend":{"orient":"none","legendX":650,"legendY":663,"title":null,"labelFontSize":11,"symbolSize":18,"symbolType":"circle","rowPadding":4,"labelOffset":3,"padding":0,"labelColor":"#111"}}}},
   {"data":{"values":[{"label":"10","x":24.39,"y":2.44},{"label":"5","x":35.11,"y":7.66},{"label":"0","x":45.25,"y":12.68},{"label":"-5","x":54.75,"y":17.9},{"label":"-10","x":64.29,"y":22.78},{"label":"-15","x":73.21,"y":27.32}]},
    "mark":{"type":"text","angle":20.7,"fontSize":10,"baseline":"middle","color":"#222"},
    "encoding":{"x":{"field":"x","type":"quantitative"},"y":{"field":"y","type":"quantitative"},"text":{"field":"label","type":"nominal"}}},
   {"data":{"values":[{"label":"- 6","x":15.48,"y":6.98},{"label":"- 4","x":13.69,"y":11.71},{"label":"-","x":13.1,"y":16.26},{"label":"0","x":11.9,"y":20.33},{"label":"2","x":10.71,"y":24.88},{"label":"4","x":8.93,"y":29.59},{"label":"5","x":8.33,"y":36.1},{"label":"0","x":7.14,"y":45.85},{"label":"-5","x":5.95,"y":56.93}]},
    "mark":{"type":"text","fontSize":10,"baseline":"middle","color":"#222"},
    "encoding":{"x":{"field":"x","type":"quantitative"},"y":{"field":"y","type":"quantitative"},"text":{"field":"label","type":"nominal"}}},
   {"data":{"values":[{"label":"Principal component 3","x":33.93,"y":64.39}]},
    "mark":{"type":"text","angle":20,"fontSize":10.4,"baseline":"middle","color":"#111"},
    "encoding":{"x":{"field":"x","type":"quantitative"},"y":{"field":"y","type":"quantitative"},"text":{"field":"label","type":"nominal"}}},
   {"data":{"values":[{"label":"Principal component 1","x":42.46,"y":89.07}]},
    "mark":{"type":"text","angle":16,"fontSize":10.4,"baseline":"middle","color":"#111"},
    "encoding":{"x":{"field":"x","type":"quantitative"},"y":{"field":"y","type":"quantitative"},"text":{"field":"label","type":"nominal"}}},
   {"data":{"values":[{"label":"Principal component 2","x":87.8,"y":54.05}]},
    "mark":{"type":"text","angle":74,"fontSize":10.4,"baseline":"middle","color":"#111"},
    "encoding":{"x":{"field":"x","type":"quantitative"},"y":{"field":"y","type":"quantitative"},"text":{"field":"label","type":"nominal"}}}
 ]},
 {"data":{"values":[{"group":"Vehicle"},{"group":"OA"}]},"mark":"rect",
  "encoding":{"x":{"field":"group","type":"nominal","sort":null,"scale":{"domain":["Vehicle","OA"],"range":[96.7,282.7],"paddingInner":0,"paddingOuter":0},"axis":{"orient":"top","offset":-920,"title":null,"ticks":false,"domain":false,"labelAngle":0,"labelFontSize":11.5,"labelPadding":1,"labelColor":"#111"}},
   "y":{"datum":0,"type":"quantitative","scale":{"domain":[0,1],"range":[926.7,920]},"axis":null},"y2":{"datum":1},
   "color":{"field":"group","type":"nominal","scale":{"domain":["Vehicle","OA"],"range":["#5E9FDB","#AE1F6B"]},"legend":null}}},
 {"data":{"values":[
{"m":"Adenosine","s":"V1","z":0.85},{"m":"Adenosine","s":"V2","z":0.85},{"m":"Adenosine","s":"V3","z":0.35},{"m":"Adenosine","s":"V4","z":1.15},{"m":"Adenosine","s":"V5","z":0.0},{"m":"Adenosine","s":"O1","z":-1.4},{"m":"Adenosine","s":"O2","z":-0.9},{"m":"Adenosine","s":"O3","z":-0.9},{"m":"Adenosine","s":"O4","z":-1.5},{"m":"Adenosine","s":"O5","z":-1.1},
{"m":"Hypoxanthine","s":"V1","z":0.8},{"m":"Hypoxanthine","s":"V2","z":1.15},{"m":"Hypoxanthine","s":"V3","z":0.35},{"m":"Hypoxanthine","s":"V4","z":0.7},{"m":"Hypoxanthine","s":"V5","z":0.0},{"m":"Hypoxanthine","s":"O1","z":-1.25},{"m":"Hypoxanthine","s":"O2","z":-1.25},{"m":"Hypoxanthine","s":"O3","z":-1.25},{"m":"Hypoxanthine","s":"O4","z":-1.25},{"m":"Hypoxanthine","s":"O5","z":-1.25},
{"m":"Inosine","s":"V1","z":1.15},{"m":"Inosine","s":"V2","z":1.15},{"m":"Inosine","s":"V3","z":0.0},{"m":"Inosine","s":"V4","z":0.7},{"m":"Inosine","s":"V5","z":-0.9},{"m":"Inosine","s":"O1","z":-1.4},{"m":"Inosine","s":"O2","z":-0.9},{"m":"Inosine","s":"O3","z":-0.9},{"m":"Inosine","s":"O4","z":-0.9},{"m":"Inosine","s":"O5","z":-1.1}]},
  "mark":"rect",
  "encoding":{
   "x":{"field":"s","type":"nominal","sort":null,"scale":{"domain":["V1","V2","V3","V4","V5","O1","O2","O3","O4","O5"],"range":[96.7,282.7],"paddingInner":0,"paddingOuter":0},"axis":null},
   "y":{"field":"m","type":"nominal","sort":null,"scale":{"domain":["Adenosine","Hypoxanthine","Inosine"],"range":[929.3,985.7],"paddingInner":0,"paddingOuter":0},"axis":{"orient":"left","offset":-96.7,"title":null,"ticks":false,"domain":false,"labelFontSize":11.5,"labelPadding":1,"labelColor":"#111"}},
   "fill":{"field":"z","type":"quantitative","scale":{"domain":[-1.5,-1,-0.5,0,0.5,1,1.5],"range":["#2B2F8E","#3A3A8F","#55508A","#787670","#9E9E4C","#C4C43E","#EEEE3F"],"clamp":true,"interpolate":"rgb"},"legend":null}}},
 {"layer":[
   {"data":{"values":[{"label":"A","fx":0.00373,"fy":0.01469},{"label":"C","fx":0.45718,"fy":0.01368},{"label":"B","fx":0.00373,"fy":0.36981},{"label":"D","fx":0.49351,"fy":0.36981},{"label":"E","fx":0.02307,"fy":0.65654},{"label":"F","fx":0.61229,"fy":0.66768},{"label":"G","fx":0.02762,"fy":0.92371}]},
    "mark":{"type":"text","fontSize":13,"fontWeight":"bold","align":"left","baseline":"alphabetic","color":"#000"},
    "encoding":{"x":{"field":"fx","type":"quantitative","scale":{"domain":[0,1],"range":[0,724]},"axis":null},"y":{"field":"fy","type":"quantitative","scale":{"domain":[0,1],"range":[0,987]},"axis":null},"text":{"field":"label","type":"nominal"}}},
   {"data":{"values":[{"label":"A549","fx":0.21409,"fy":0.66211}]},
    "mark":{"type":"text","fontSize":12.5,"align":"center","baseline":"alphabetic","color":"#111"},
    "encoding":{"x":{"field":"fx","type":"quantitative"},"y":{"field":"fy","type":"quantitative"},"text":{"field":"label","type":"nominal"}}},
   {"data":{"values":[{"label":"Class","fx":0.41022,"fy":0.38399}]},
    "mark":{"type":"text","fontSize":7.5,"angle":90,"align":"right","baseline":"middle","color":"#111"},
    "encoding":{"x":{"field":"fx","type":"quantitative"},"y":{"field":"fy","type":"quantitative"},"text":{"field":"label","type":"nominal"}}}
 ]}
],
"datasets":{
 "cdata":[
  {"pathway":"Arginine and proline metabolism","abundance":0.275,"sig":3.0},
  {"pathway":"Urea cycle","abundance":0.175,"sig":2.9},
  {"pathway":"Alanine metabolosm","abundance":0.165,"sig":2.3},
  {"pathway":"Glycine and serine metabolism","abundance":0.115,"sig":2.6},
  {"pathway":"Ammonia recycling","abundance":-0.005,"sig":3.0},
  {"pathway":"Spermidine and Spermine Biosynthesis","abundance":0.002,"sig":1.3},
  {"pathway":"Pyrimidine metabolism","abundance":0.0,"sig":2.0},
  {"pathway":"Mitochondrial beta-oxidation of long chain saturated fatty acids","abundance":-0.002,"sig":2.2},
  {"pathway":"Citric acid cycle","abundance":0.002,"sig":1.9},
  {"pathway":"Amino sugar metabolism","abundance":0.003,"sig":1.6},
  {"pathway":"Starch and sucrose metabolism","abundance":0.002,"sig":1.5},
  {"pathway":"Methionine metabolism","abundance":0.003,"sig":1.9},
  {"pathway":"Glycerolipid metabolism","abundance":0.004,"sig":2.1},
  {"pathway":"Fatty acid biosynthesis","abundance":0.003,"sig":1.5},
  {"pathway":"Aspartate metabolism","abundance":0.005,"sig":1.8},
  {"pathway":"Valine ,leucine and Isoleucine degradation","abundance":-0.165,"sig":2.2},
  {"pathway":"Glutamate metabolism","abundance":-0.2,"sig":1.8},
  {"pathway":"Gluconcogenesis","abundance":-0.25,"sig":2.7},
  {"pathway":"Purine metabolism","abundance":-0.295,"sig":3.0},
  {"pathway":"Galactose metabolism","abundance":-0.295,"sig":3.0},
  {"pathway":"Glycolysis","abundance":-0.4,"sig":2.2},
  {"pathway":"Glucose-alanine cycle","abundance":-0.4,"sig":2.2},
  {"pathway":"Purine salvage pathway","abundance":-0.49,"sig":2.2}
 ],
 "dnodes":[
  {"name":"AMP","cx":2.151,"cy":1.451,"role":"light"},
  {"name":"IMP","cx":5.129,"cy":1.451,"role":"dark"},
  {"name":"GMP","cx":8.92,"cy":1.451,"role":"light"},
  {"name":"Adenosine","cx":2.151,"cy":5.385,"role":"measured"},
  {"name":"Inosine","cx":5.129,"cy":5.385,"role":"measured"},
  {"name":"Guanosine","cx":9.01,"cy":5.385,"role":"dark"},
  {"name":"Adenine","cx":2.151,"cy":9.267,"role":"dark"},
  {"name":"Hypoxanthine","cx":5.129,"cy":9.267,"role":"measured"},
  {"name":"Guanine","cx":9.05,"cy":9.267,"role":"dark"}
 ]
}
}
